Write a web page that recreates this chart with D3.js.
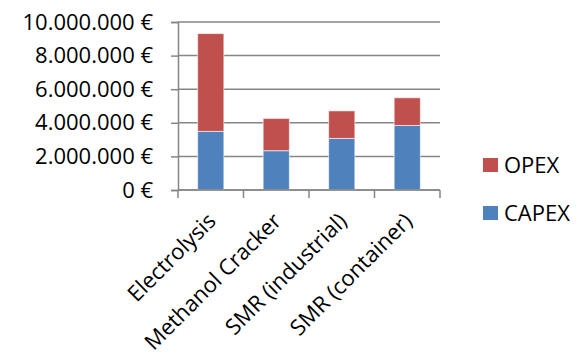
<!DOCTYPE html>
<html>
<head>
<meta charset="utf-8">
<script src="https://cdn.jsdelivr.net/npm/d3@7"></script>
<style>
  body { margin: 0; background: #fff; }
  text { font-family: "Open Sans", sans-serif; fill: #000; }
</style>
</head>
<body>
<div id="chart"></div>
<script>
// data
var categories = ["Electrolysis", "Methanol Cracker", "SMR (industrial)", "SMR (container)"];
var capex = [3490000, 2340000, 3070000, 3840000];
var opex = [5820000, 1920000, 1640000, 1650000];
var yTicks = [0, 2000000, 4000000, 6000000, 8000000, 10000000];
var seriesNames = ["CAPEX", "OPEX"];
var colors = { CAPEX: "#4F81BD", OPEX: "#C0504D" };

var width = 588, height = 363;
var plotLeft = 178, plotRight = 440, plotTop = 22, plotBottom = 190;

var svg = d3.select("#chart").append("svg")
    .attr("width", width)
    .attr("height", height);

var x = d3.scaleBand()
    .domain(categories)
    .range([plotLeft, plotRight])
    .padding(0);

var y = d3.scaleLinear()
    .domain([0, 10000000])
    .range([plotBottom, plotTop]);

var fmt = function(v) {
  return d3.format(",")(v).replace(/,/g, ".") + " €";
};

// gridlines
svg.append("g")
    .selectAll("line")
    .data(yTicks)
    .enter().append("line")
    .attr("x1", plotLeft)
    .attr("x2", plotRight)
    .attr("y1", function(d) { return y(d); })
    .attr("y2", function(d) { return y(d); })
    .attr("stroke", "#868686")
    .attr("stroke-width", 1.5);

// stacked bars
var rows = categories.map(function(c, i) {
  return { cat: c, CAPEX: capex[i], OPEX: opex[i] };
});
var stacked = d3.stack().keys(seriesNames)(rows);

var bw = x.bandwidth() * 0.4;
svg.append("g")
    .selectAll("g")
    .data(stacked)
    .enter().append("g")
    .attr("fill", function(s) { return colors[s.key]; })
    .selectAll("rect")
    .data(function(s) { return s; })
    .enter().append("rect")
    .attr("x", function(d) { return x(d.data.cat) + (x.bandwidth() - bw) / 2; })
    .attr("y", function(d) { return y(d[1]); })
    .attr("width", bw)
    .attr("height", function(d) { return y(d[0]) - y(d[1]); })
    .attr("stroke", "rgba(255,255,255,0.6)")
    .attr("stroke-width", 1);

// y axis
var yAxis = svg.append("g")
    .attr("transform", "translate(" + plotLeft + ",0)")
    .call(d3.axisLeft(y).tickValues(yTicks).tickFormat(fmt).tickSize(7).tickPadding(18));
yAxis.select(".domain").attr("stroke", "#868686").attr("stroke-width", 1.5);
yAxis.selectAll(".tick line").attr("stroke", "#868686").attr("stroke-width", 1.5);
yAxis.selectAll("text")
    .style("font-family", "'Open Sans', sans-serif")
    .style("font-size", "22px")
    .attr("fill", "#000");

// x axis (ticks between categories)
var bounds = categories.map(function(c) { return x(c); }).concat([plotRight]);
svg.append("line")
    .attr("x1", plotLeft).attr("x2", plotRight)
    .attr("y1", plotBottom).attr("y2", plotBottom)
    .attr("stroke", "#868686").attr("stroke-width", 1.5);
svg.append("g")
    .selectAll("line")
    .data(bounds)
    .enter().append("line")
    .attr("x1", function(d) { return d; })
    .attr("x2", function(d) { return d; })
    .attr("y1", plotBottom)
    .attr("y2", plotBottom + 8)
    .attr("stroke", "#868686")
    .attr("stroke-width", 1.5);

svg.append("g")
    .selectAll("text")
    .data(categories)
    .enter().append("text")
    .attr("transform", function(d) {
      return "translate(" + (x(d) + x.bandwidth() / 2 + 1) + "," + 217 + ") rotate(-45)";
    })
    .attr("text-anchor", "end")
    .attr("dy", "0.35em")
    .style("font-size", "22px")
    .text(function(d) { return d; });

// legend
var legendItems = ["OPEX", "CAPEX"];
var lg = svg.append("g")
    .selectAll("g")
    .data(legendItems)
    .enter().append("g")
    .attr("transform", function(d, i) { return "translate(483," + (158 + i * 48) + ")"; });
lg.append("rect")
    .attr("width", 15)
    .attr("height", 14)
    .attr("fill", function(d) { return colors[d]; });
lg.append("text")
    .attr("x", 21)
    .attr("y", 7)
    .attr("dy", "0.35em")
    .style("font-size", "22px")
    .text(function(d) { return d; });
</script>
</body>
</html>
